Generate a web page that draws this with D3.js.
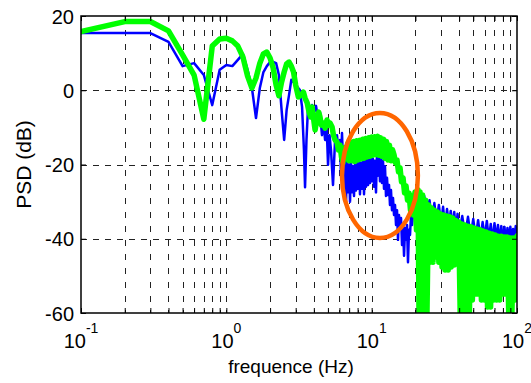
<!DOCTYPE html>
<html><head><meta charset="utf-8">
<script src="https://cdn.jsdelivr.net/npm/d3@7"></script>
<style>
body{margin:0;background:#fff}
svg{display:block}
text{font-family:"Liberation Sans",Arial,Helvetica,sans-serif;fill:#000}
</style>
</head><body>
<svg id="c" width="531" height="383"></svg>
<script>
// ---- data ----
const xDomain = [0.1, 100];
const yDomain = [-60, 20];
const yTicks = [-60, -40, -20, 0, 20];
const xMajor = [0.1, 1, 10, 100];
const xMajorExp = ["-1", "0", "1", "2"];
const xMinorMult = [2, 3, 4, 5, 6, 7, 8, 9];
const xLabel = "frequence (Hz)";
const yLabel = "PSD (dB)";

const blueFreq = [0.1,0.2,0.3,0.4,0.5,0.6,0.7,0.8,0.9,1.0,1.1,1.2,1.3,1.4,1.5,1.6,1.7,1.8,1.9,2.0,2.1,2.2,2.3,2.4,2.5,2.6,2.7,2.8,2.9,3.0,
3.2,3.32,3.42,3.48,3.56,3.65,3.77,3.89,4.01,4.14,4.28,4.41,4.55,4.66,4.78,4.90,5.01,5.13,5.25,5.42,5.60,5.77,5.91,6.06,6.15,6.25,6.35,6.45,6.56,6.66,
6.77,6.87,6.98,7.10,7.21,7.32,7.44,7.56,7.68,7.80,7.93,8.05,8.18,8.31,8.45,8.58,8.72,8.86,9.00,9.14,9.29,9.44,9.59,9.74,9.90,10.05,10.21,10.38,10.54,10.71,
10.88,11.06,11.23,11.41,11.60,11.78,11.97,12.16,12.35,12.55,12.75,12.95,13.16,13.37,13.58,13.80,14.02,14.25,14.48,14.71,14.94,15.18,15.42,15.67,15.92,16.18,16.44,16.70,16.97,17.24,
17.51,17.78,18.07,18.36,18.65,18.95,19.56,20.19,20.84,
22,23,24,25,26,27,28,29,30,31,32,33,34,35,36,37,38,39,40,42,44,46,48,50,52,54,56,58,60,62,64,66,68,70,72,74,76,78,80,82,84,86,88,90,92,94,96,98,100];
const blueDb = [15.4,15.4,15.4,13.0,6.5,7.3,4.1,-4.0,5.5,6.8,6.5,8.2,9.8,5.5,0.6,-7.5,0.6,4.9,6.5,7.6,7.6,7.3,4.1,-5.3,-13.4,-5.3,-1.3,2.8,2.2,1.4,
0.1,-4.5,-16.1,-26.1,-13.4,-4.5,-7.2,-4.0,-5.9,-4.2,-7.5,-5.9,-12.1,-8.6,-13.4,-9.4,-20.1,-12.1,-16.1,-25.5,-13.4,-12.1,-16.1,-13.4,
-23.0,-11.5,-19.5,-28.0,-19.0,-30.5,-18.5,-27.5,-20.0,-30.0,
-19.0,-27.5,-20.5,-28.5,-19.5,-27.0,-19.0,-26.5,-18.5,-28.0,
-19.5,-26.5,-19.0,-28.0,-18.5,-26.0,-18.0,-25.5,-18.5,-25.0,
-17.5,-24.5,-18.5,-26.0,-19.0,-27.5,-16.9,-23.0,-17.5,-24.5,
-18.0,-25.0,-19.0,-26.5,-20.5,-28.5,
-23.6,-28.2,-25.5,-30.9,-26.9,-32.3,-29.0,-33.6,-30.9,-36.3,-32.3,-40.3,-33.6,-37.1,-34.4,-41.7,-36.3,-44.6,-37.1,-40.3,
-36.3,-46.3,-37.6,-39.0,-33.6,-36.3,-30.9,-29.6,-28.2,
-32.3,-28.5,-33.6,-29.6,-35.0,-30.4,-35.5,-30.9,-36.3,-31.4,-37.1,-32.0,-36.6,-32.5,-37.6,-32.8,-38.2,-33.3,-38.5,-33.9,-39.0,-34.1,-39.3,-34.7,-39.8,-35.0,-40.3,-35.5,-39.8,-35.2,
-40.3,-36.0,-40.9,-35.8,-40.3,-36.3,-41.1,-36.6,-40.9,-36.8,-41.4,-37.1,-41.1,-36.8,-41.4,-37.4,-40.3,-36.6,-38.2];

const greenFreq = [0.1,0.2,0.3,0.4,0.5,0.6,0.7,0.8,0.9,1.0,1.1,1.2,1.3,1.4,1.5,1.6,1.7,1.8,1.9,2.0,2.1,2.2,2.3,2.4,2.5,2.6,2.7,2.8,2.9,3.0,
3.13,3.27,3.39,3.48,3.60,3.71,3.80,3.89,3.98,4.08,4.21,4.32,4.41,4.51,4.63,4.78,4.93,5.05,5.17,5.34,
5.46,5.60,5.77,5.91,6.06,6.20,6.35,6.50,6.66,6.82,6.98,7.15,7.32,7.50,7.68,7.86,8.05,8.25,8.45,8.65,
8.86,9.07,9.29,9.52,9.74,9.98,10.21,10.46,10.71,10.97,11.23,11.50,11.78,12.07,12.35,12.65,12.95,13.26,13.58,13.91,
14.25,14.60,14.94,15.30,15.67,16.05,16.44,16.84,17.24,17.65,18.07,18.50,18.95,19.41,19.87,20.35,20.84,21.17,21.51,
22.0,22.4,23.0,23.5,24.0,24.6,25.2,25.8,26.4,27.0,27.7,28.3,29.0,29.7,30.5,31.2,32.0,32.8,33.6,34.4,
35.2,36.0,36.9,37.8,38.8,39.7,40.7,41.7,42.7,43.7,44.8,45.9,47.0,48.1,49.3,50.5,51.7,53.0,54.3,55.6,
56.9,58.3,59.7,61.2,62.7,64.2,65.8,67.4,69.0,70.7,72.4,74.2,76.0,77.9,79.8,81.7,83.7,85.7,87.8,90.0,
92.2,94.4,96.7,99.1,100];
const greenDb = [15.8,18.5,18.5,16.0,9.5,4.1,-7.8,11.9,13.8,14.0,13.3,11.9,9.0,3.8,0.6,3.3,7.3,9.8,10.3,8.7,6.0,1.4,-1.5,2.2,4.9,7.1,7.6,6.5,4.9,1.4,
-1.8,-1.3,-0.5,-2.1,-3.4,-5.9,-7.2,-4.5,-7.5,-10.7,-7.5,-5.9,-7.2,-9.4,-8.8,-10.2,-8.0,-9.4,-8.8,-9.9,
-12.1,-13.4,-13.9,-16.1,-14.8,-18.0,-19.5,-15.5,-18.5,-14.5,-19.0,-14.0,-19.0,-13.8,-19.2,-13.6,-18.8,-13.5,-18.5,-13.2,
-18.3,-13.0,-18.0,-12.8,-17.8,-12.6,-17.5,-12.5,-17.3,-12.4,-17.5,-12.8,-17.8,-13.2,-18.3,-13.8,-18.8,-14.8,-19.0,-16.0,
-17.4,-19.6,-18.8,-22.0,-20.9,-24.7,-23.6,-27.7,-25.8,-29.6,-27.7,-32.3,-28.5,-33.6,-27.4,-37.6,-26.9,-60.0,-27.4,
-61,-28.2,-61,-29.6,-61,-30.9,-46.3,-31.7,-46.3,-32.3,-44.9,-32.8,-46.3,-33.3,-47.6,-33.6,-48.4,-33.9,-48.4,-34.1,
-47.6,-34.4,-47.1,-35.0,-46.8,-35.5,-61,-36.0,-61,-36.3,-61,-36.6,-61,-36.8,-56.5,-37.1,-54.9,-37.4,-54.9,-37.6,
-56.5,-37.9,-56.5,-38.2,-58.4,-38.5,-58.4,-38.7,-56.5,-39.0,-56.5,-39.3,-56.5,-39.3,-54.9,-39.5,-54.9,-39.5,-61,-39.8,
-61,-39.8,-56.5,-39.8,-39.3];

// highlighted region (orange ellipse), in data units
const ellipseFreq = [6.25, 20.8];
const ellipseDb = [-39.8, -6.1];

// ---- layout ----
const L = 81, R = 517, T = 16, B = 313;
const svg = d3.select("#c");
const x = d3.scaleLog().domain(xDomain).range([L, R]);
const y = d3.scaleLinear().domain(yDomain).range([B, T]);

const allX = [];
xMajor.forEach((d, i) => {
  allX.push(d);
  if (i < xMajor.length - 1) xMinorMult.forEach(m => allX.push(d * m));
});

// grid
const grid = svg.append("g");
grid.selectAll("line.v").data(allX.filter(v => v > xDomain[0] && v < xDomain[1])).join("line")
  .attr("x1", d => Math.round(x(d)) + 0.5).attr("x2", d => Math.round(x(d)) + 0.5)
  .attr("y1", T).attr("y2", B)
  .attr("stroke", "#222").attr("stroke-width", 1).attr("stroke-dasharray", "6,8");
grid.selectAll("line.h").data(yTicks.filter(v => v > yDomain[0] && v < yDomain[1])).join("line")
  .attr("x1", L).attr("x2", R)
  .attr("y1", d => Math.round(y(d)) + 0.5).attr("y2", d => Math.round(y(d)) + 0.5)
  .attr("stroke", "#222").attr("stroke-width", 1).attr("stroke-dasharray", "6,6");

// clip
svg.append("clipPath").attr("id", "clip").append("rect")
  .attr("x", L).attr("y", T).attr("width", R - L).attr("height", B - T);

const line = d3.line().x(d => x(d[0])).y(d => y(d[1]));
const blue = d3.zip(blueFreq, blueDb);
const green = d3.zip(greenFreq, greenDb);

const plot = svg.append("g").attr("clip-path", "url(#clip)");
plot.append("path").datum(blue).attr("d", line)
  .attr("fill", "none").attr("stroke", "#0000ff").attr("stroke-width", 2.5)
  .attr("stroke-linejoin", "round").attr("stroke-linecap", "round");
plot.append("path").datum(green).attr("d", line)
  .attr("fill", "none").attr("stroke", "#00ff00").attr("stroke-width", 5.5)
  .attr("stroke-linejoin", "round").attr("stroke-linecap", "round");

// axes box
svg.append("rect").attr("x", L).attr("y", T).attr("width", R - L).attr("height", B - T)
  .attr("fill", "none").attr("stroke", "#000").attr("stroke-width", 1.5);

// ticks via d3 axes
const fmt = d => String(d);
const yAxisL = svg.append("g").attr("transform", `translate(${L},0)`)
  .call(d3.axisLeft(y).tickValues(yTicks).tickSizeInner(-5).tickSizeOuter(0).tickPadding(7).tickFormat(fmt));
const yAxisR = svg.append("g").attr("transform", `translate(${R},0)`)
  .call(d3.axisRight(y).tickValues(yTicks).tickSizeInner(-5).tickSizeOuter(0).tickFormat(""));
const xAxisB = svg.append("g").attr("transform", `translate(0,${B})`)
  .call(d3.axisBottom(x).tickValues(allX).tickSizeInner(-5).tickSizeOuter(0).tickFormat(""));
const xAxisT = svg.append("g").attr("transform", `translate(0,${T})`)
  .call(d3.axisTop(x).tickValues(allX).tickSizeInner(-5).tickSizeOuter(0).tickFormat(""));
[yAxisL, yAxisR, xAxisB, xAxisT].forEach(g => {
  g.select(".domain").remove();
  g.selectAll(".tick line").attr("stroke", "#000").attr("stroke-width", 1);
});
yAxisL.selectAll(".tick text")
  .attr("font-size", 20).attr("font-family", "Liberation Sans, Arial, sans-serif")
  .attr("fill", "#000").attr("dy", "0.36em");

// x major labels with superscript exponent
const xl = svg.append("g").selectAll("text").data(xMajor).join("text")
  .attr("x", d => x(d)).attr("y", 348).attr("text-anchor", "middle").attr("font-size", 20);
xl.append("tspan").text("10");
xl.append("tspan").attr("font-size", 14).attr("dy", -15).text((d, i) => xMajorExp[i]);

// axis labels
svg.append("text").attr("x", 291).attr("y", 373).attr("text-anchor", "middle")
  .attr("font-size", 19).text(xLabel);
svg.append("text").attr("transform", `translate(31,${(T + B) / 2}) rotate(-90)`)
  .attr("text-anchor", "middle").attr("font-size", 21).text(yLabel);

// orange ellipse annotation
const ex0 = x(ellipseFreq[0]), ex1 = x(ellipseFreq[1]);
const ey0 = y(ellipseDb[1]), ey1 = y(ellipseDb[0]);
svg.append("ellipse")
  .attr("cx", (ex0 + ex1) / 2).attr("cy", (ey0 + ey1) / 2)
  .attr("rx", (ex1 - ex0) / 2).attr("ry", (ey1 - ey0) / 2)
  .attr("fill", "none").attr("stroke", "#ff6600").attr("stroke-width", 4.5);
</script>
</body></html>
